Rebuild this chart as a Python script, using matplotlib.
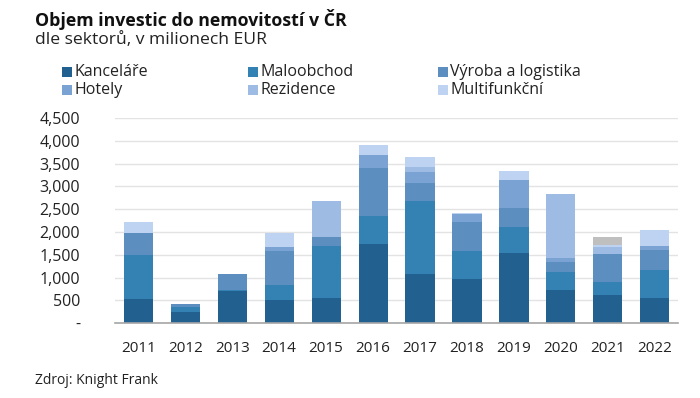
import numpy as np
import matplotlib.pyplot as plt
from matplotlib.patches import Rectangle
from matplotlib.ticker import FuncFormatter

years = ["2011", "2012", "2013", "2014", "2015", "2016", "2017", "2018", "2019", "2020", "2021", "2022"]

# mil. EUR po sektorech
kancelare = [535, 240, 700, 515, 560, 1735, 1070, 970, 1540, 735, 625, 560]
maloobchod = [970, 110, 30, 315, 1135, 615, 1615, 615, 560, 390, 280, 600]
vyroba = [465, 60, 350, 755, 200, 1050, 380, 640, 425, 220, 610, 455]
hotely = [0, 0, 0, 90, 0, 295, 255, 160, 615, 95, 0, 75]
rezidence = [0, 0, 0, 0, 795, 0, 110, 0, 0, 1395, 160, 0]
multifunkcni = [255, 0, 0, 295, 0, 205, 205, 40, 200, 0, 50, 350]
ostatni = [0, 0, 0, 0, 0, 0, 0, 0, 0, 0, 155, 0]

series = [
    ("Kanceláře", kancelare, "#22608f"),
    ("Maloobchod", maloobchod, "#3481b3"),
    ("Výroba a logistika", vyroba, "#5c8fbf"),
    ("Hotely", hotely, "#7aa3d3"),
    ("Rezidence", rezidence, "#9dbbe3"),
    ("Multifunkční", multifunkcni, "#bdd3f1"),
    (None, ostatni, "#bfbfbf"),
]

plt.rcParams["font.family"] = ["Open Sans", "DejaVu Sans"]

fig = plt.figure(figsize=(7.0, 3.98), dpi=100)
ax = fig.add_axes([0.164, 0.188, 0.805, 0.5155])

x = np.arange(len(years))
bottom = np.zeros(len(years))
for name, vals, col in series:
    vals = np.array(vals, dtype=float)
    ax.bar(x, vals, 0.62, bottom=bottom, color=col, edgecolor="none", zorder=3)
    bottom += vals

ax.set_xlim(-0.5, len(years) - 0.5)
ax.set_ylim(0, 4500)
ax.set_yticks(np.arange(0, 4501, 500))
ax.yaxis.set_major_formatter(FuncFormatter(lambda v, p: "-" if v == 0 else f"{int(v):,}"))
ax.set_xticks(x)
ax.set_xticklabels(years)
ax.tick_params(axis="y", length=0, pad=25, labelsize=11.5, colors="#222222")
ax.tick_params(axis="x", length=0, pad=13, labelsize=11, colors="#222222")
ax.grid(axis="y", color="#e3e3e3", lw=1.0, zorder=0)
for s in ["top", "right", "left"]:
    ax.spines[s].set_visible(False)
ax.spines["bottom"].set_color("#a6a6a6")
ax.spines["bottom"].set_linewidth(1.2)
ax.spines["bottom"].set_zorder(4)

fig.text(0.05, 1 - 19 / 398, "Objem investic do nemovitostí v ČR", fontsize=12.8, fontweight="bold",
         color="#111111", va="center", ha="left")
fig.text(0.05, 1 - 40 / 398, "dle sektorů, v milionech EUR", fontsize=12.6, color="#222222",
         va="center", ha="left")

# legenda, 2 radky po 3
leg_x = [62, 248, 438]
leg_y = [72, 90]
for i, (name, vals, col) in enumerate(series[:6]):
    px = leg_x[i % 3]
    py = leg_y[i // 3]
    fig.patches.append(Rectangle((px / 700, 1 - (py + 5) / 398), 10 / 700, 10 / 398,
                                 transform=fig.transFigure, facecolor=col, edgecolor="none"))
    fig.text((px + 12) / 700, 1 - py / 398, name, fontsize=11.5, color="#222222",
             va="center", ha="left")

fig.text(0.05, 1 - 380 / 398, "Zdroj: Knight Frank", fontsize=10, color="#222222",
         va="center", ha="left")

fig.savefig("out.png", dpi=100, facecolor="white")
